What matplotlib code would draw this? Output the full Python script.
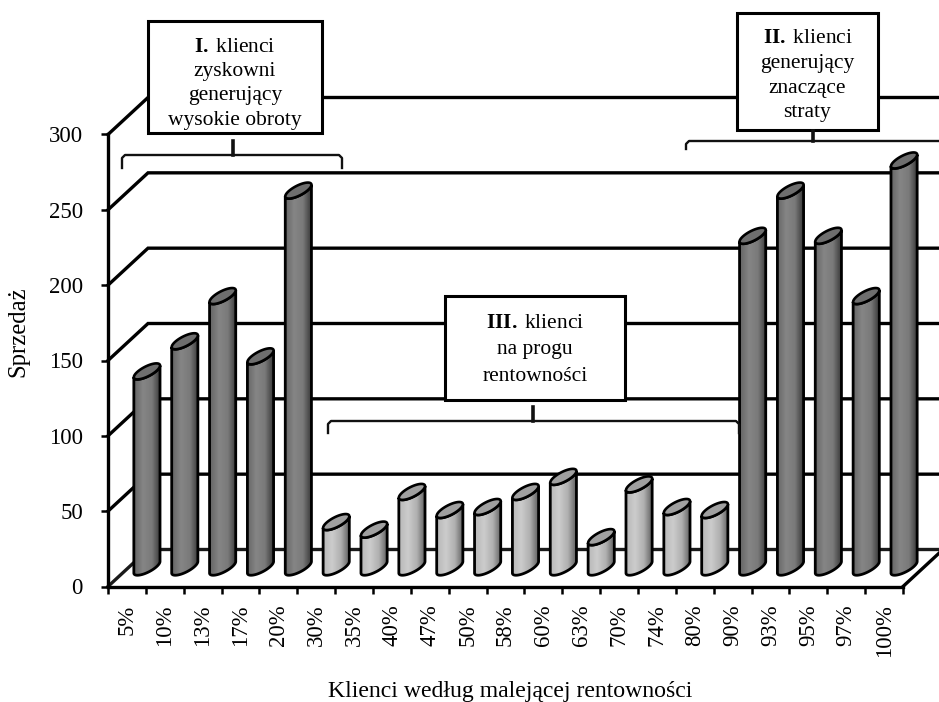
# -*- coding: utf-8 -*-
import numpy as np
import matplotlib
matplotlib.use('Agg')
import matplotlib.pyplot as plt
from matplotlib.colors import LinearSegmentedColormap
from matplotlib.patches import Polygon, Rectangle

plt.rcParams['font.family'] = ['Liberation Serif', 'DejaVu Serif']
plt.rcParams['mathtext.fontset'] = 'custom'
plt.rcParams['mathtext.rm'] = 'Liberation Serif'
plt.rcParams['mathtext.bf'] = 'Liberation Serif:bold'

# data
labels = ['5%', '10%', '13%', '17%', '20%', '30%', '35%', '40%', '47%', '50%', '58%',
          '60%', '63%', '70%', '74%', '80%', '90%', '93%', '95%', '97%', '100%']
sales = [130, 150, 180, 140, 250, 30, 25, 50, 38, 40, 50,
         60, 20, 55, 40, 38, 220, 250, 220, 180, 270]
groups = ['d', 'd', 'd', 'd', 'd', 'l', 'l', 'l', 'l', 'l', 'l',
          'l', 'l', 'l', 'l', 'l', 'd', 'd', 'd', 'd', 'd']
y_ticks = [0, 50, 100, 150, 200, 250, 300]

W, H = 939, 702
L, R, T, B = 108, 903, 134.5, 586.5
px_x = (R - L) / len(labels)
px_y = (B - T) / 300.0
depth_x = 40 / px_x      # 3d shift of the back wall
depth_y = 37 / px_y

fig = plt.figure(figsize=(W / 100, H / 100), dpi=100)
ax = fig.add_axes([L / W, 1 - B / H, (R - L) / W, (B - T) / H])

dark = LinearSegmentedColormap.from_list('d', ['#666666', '#858585', '#7a7a7a', '#363636'])
light = LinearSegmentedColormap.from_list('l', ['#b8b8b8', '#cccccc', '#b0b0b0', '#5c5c5c'])

# back wall
for v in y_ticks:
    ax.plot([0, depth_x, 30], [v, v + depth_y, v + depth_y], color='#1a1a1a' if v == 0 else 'k', lw=2.4,
            clip_on=False, zorder=1, solid_joinstyle='miter')
ax.plot([len(labels), len(labels) + depth_x], [0, depth_y], color='k', lw=2.4,
        clip_on=False, zorder=1)

# cylinders
a, b, c = 9.0 / px_x, 9.5 / px_x, 8.0 / px_y
t = np.linspace(0, 2 * np.pi, 121)
half = np.hypot(a, b)
t_r = np.arctan2(b, a)               # right extreme of the ellipse
grad = np.linspace(0, 1, 64).reshape(1, -1)

for i, v in enumerate(sales):
    cx = i + 0.5 + depth_x / 2
    y0 = depth_y / 2 + 0.5

    def ell(tt, yc):
        return cx + a * np.cos(tt) + b * np.sin(tt), yc + c * np.sin(tt)

    low = np.linspace(t_r + np.pi, t_r + 2 * np.pi, 60)
    xb, yb = ell(low, y0)
    xt, yt = ell(low[::-1], y0 + v)
    body = np.column_stack([np.r_[xb, xt], np.r_[yb, yt]])
    cmap = dark if groups[i] == 'd' else light
    patch = Polygon(body, closed=True, fc='none', ec='k', lw=2.0, zorder=4, clip_on=False)
    ax.add_patch(patch)
    im = ax.imshow(grad, extent=[cx - half, cx + half, y0 - c, y0 + v + c], cmap=cmap,
                   aspect='auto', zorder=3, vmin=0, vmax=1)
    im.set_clip_box(fig.bbox)
    im.set_clip_path(patch)
    xe, ye = ell(t, y0 + v)
    ax.add_patch(Polygon(np.column_stack([xe, ye]), closed=True,
                         fc='#6e6e6e' if groups[i] == 'd' else '#a0a0a0',
                         ec='k', lw=1.9, zorder=5, clip_on=False))

ax.set_xlim(0, len(labels))
ax.set_ylim(0, 300)
ax.patch.set_visible(False)
for s in ['top', 'right']:
    ax.spines[s].set_visible(False)
for s in ['left', 'bottom']:
    ax.spines[s].set_linewidth(2.4)
    ax.spines[s].set_zorder(6)

ax.set_yticks(y_ticks)
ax.set_xticks(np.arange(len(labels) + 1))
ax.set_xticklabels([])
ax.set_xticks(np.arange(len(labels)) + 0.5, labels, minor=True, rotation=90, fontsize=16.4, va='top')
ax.tick_params(axis='x', which='minor', length=0, pad=13)
ax.tick_params(axis='x', which='major', length=5, width=1.8)
ax.tick_params(axis='y', length=5, width=1.8, labelsize=16.5, pad=13)

# overlay in pixels for the labels and boxes
ov = fig.add_axes([0, 0, 1, 1], zorder=10)
ov.set_xlim(0, W)
ov.set_ylim(H, 0)
ov.axis('off')

ov.text(510, 692, 'Klienci według malejącej rentowności', ha='center', va='center', fontsize=17.1)
ov.text(18, 332, 'Sprzedaż', rotation=90, ha='center', va='center', fontsize=17.8)


def box(x0, y0, x1, y1, lines, ys):
    ov.add_patch(Rectangle((x0, y0), x1 - x0, y1 - y0, fc='white', ec='k', lw=2.2))
    for line, y in zip(lines, ys):
        ov.text((x0 + x1) / 2, y, line, ha='center', va='baseline', fontsize=15.5)


def bracket(x0, x1, y, stem, y_top, end):
    r = 3
    ov.plot([x0, x0, x0 + r, x1 - r, x1, x1], [end, y + r, y, y, y + r, end], color='#111111', lw=1.7)
    ov.plot([stem, stem], [y_top, y], color='#111111', lw=2.6)


box(148, 21, 322, 133, [r'$\mathbf{I.}\,$klienci', 'zyskowni', 'generujący', 'wysokie obroty'], [52, 76, 100, 125])
box(737, 13, 878, 130, [r'$\mathbf{II.}\,$klienci', 'generujący', 'znaczące', 'straty'], [43, 68, 93, 117])
box(445, 296, 625, 400, [r'$\mathbf{III.}\,$klienci', 'na progu', 'rentowności'], [328, 354, 381])

bracket(122, 342, 155, 233, 141, 168)
bracket(686, 960, 141, 813, 131, 149)
bracket(328, 739, 421, 533, 407, 433)

plt.savefig('out.png', dpi=100)
